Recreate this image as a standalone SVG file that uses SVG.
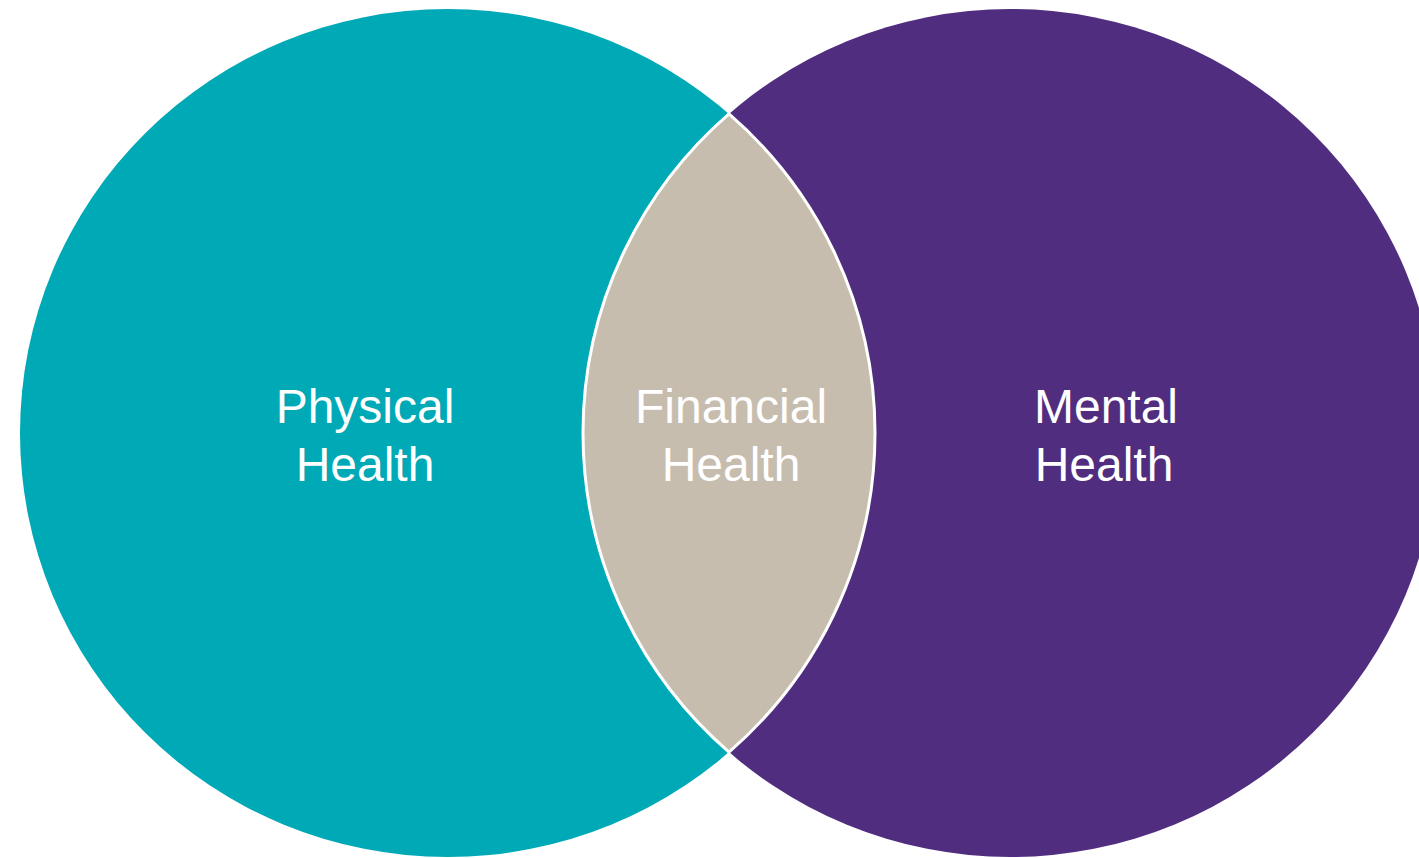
<svg xmlns="http://www.w3.org/2000/svg" width="1419" height="858" viewBox="0 0 1419 858">
<style>
text{font-family:"Liberation Sans",Arial,sans-serif;font-size:48px;fill:#ffffff;text-anchor:middle}
</style>
<rect width="1419" height="858" fill="#ffffff"/>
<g id="physical">
<ellipse cx="447.5" cy="433" rx="427.5" ry="424" fill="#00A9B6"/>
<text x="365" y="423">Physical</text>
<text x="365" y="481">Health</text>
</g>
<g id="mental">
<ellipse cx="1010.5" cy="433" rx="427.5" ry="424" fill="#502D7F"/>
<text x="1106" y="423">Mental</text>
<text x="1104" y="481">Health</text>
</g>
<g id="financial">
<path d="M729,113.9 A427.5,424 0 0 1 729,752.1 A427.5,424 0 0 1 729,113.9 Z" fill="#C6BDAF" stroke="#ffffff" stroke-width="3"/>
<text x="731" y="423">Financial</text>
<text x="731" y="481">Health</text>
</g>
<g id="connectors"/>
</svg>
